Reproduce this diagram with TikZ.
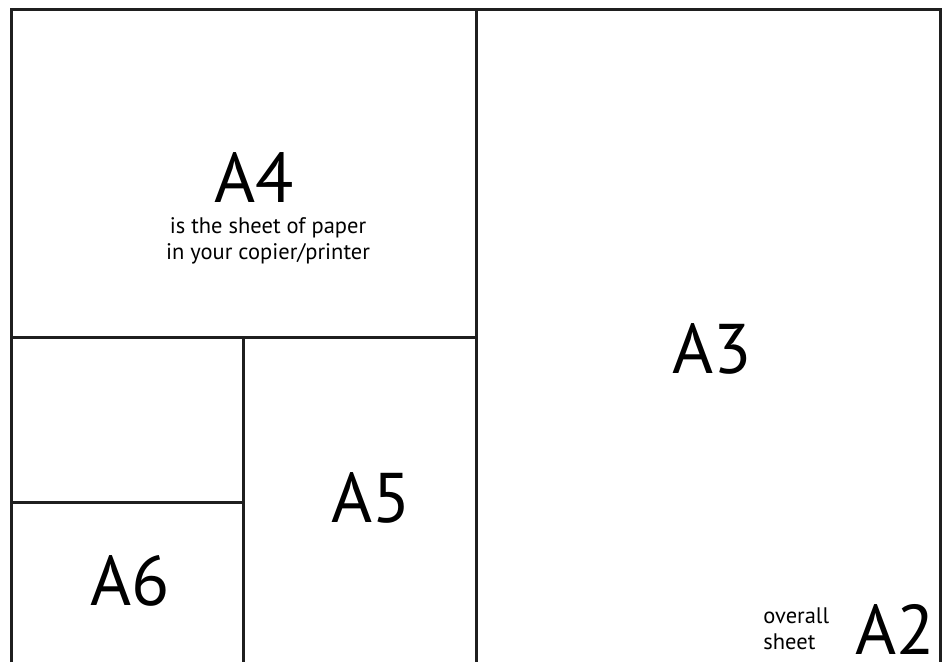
\documentclass[tikz,border=0pt]{standalone}
\usepackage{fontspec}
\setmainfont{PT Sans}

\begin{document}
\begin{tikzpicture}
\tikzset{
edge/.style={line width=0.06cm, draw=black!88},
big/.style={font=\fontsize{40}{40}\selectfont, inner sep=0pt, anchor=base},
small/.style={font=\fontsize{12.8}{15.2}\selectfont, inner sep=0pt, align=center}
}

	% coordinates
	\useasboundingbox (0,0) rectangle (18.92,13.24);

	\coordinate (topleft) at (0.22,13.04);
	\coordinate (topright) at (18.8,13.04);
	\coordinate (botleft) at (0.22,0);
	\coordinate (botright) at (18.8,0);
	\coordinate (midtop) at (9.53,13.04);
	\coordinate (midbot) at (9.53,0);
	\coordinate (a4left) at (0.22,6.5);
	\coordinate (a4right) at (9.53,6.5);
	\coordinate (a5top) at (4.86,6.5);
	\coordinate (a5bot) at (4.86,0);
	\coordinate (a6left) at (0.22,3.2);
	\coordinate (a6right) at (4.86,3.2);

	% sheet and cuts
	\draw[edge] (botleft) -- (topleft) -- (topright) -- (botright);
	\draw[edge] (midtop) -- (midbot);
	\draw[edge] (a4left) -- (a4right);
	\draw[edge] (a5top) -- (a5bot);
	\draw[edge] (a6left) -- (a6right);

	% labels
	\node[big] at (5.08,9.2) (a4) {A4};
	\node[small, anchor=north] at (5.36,8.9) (a4note) {is the sheet of paper\\in your copier/printer};
	\node[big] at (14.24,5.78) (a3) {A3};
	\node[big] at (7.42,2.8) (a5) {A5};
	\node[big] at (2.6,1.14) (a6) {A6};
	\node[big] at (17.9,0.16) (a2) {A2};
	\node[small, align=left, anchor=north west] at (15.26,1.1) (a2note) {overall\\sheet};

\end{tikzpicture}
\end{document}
